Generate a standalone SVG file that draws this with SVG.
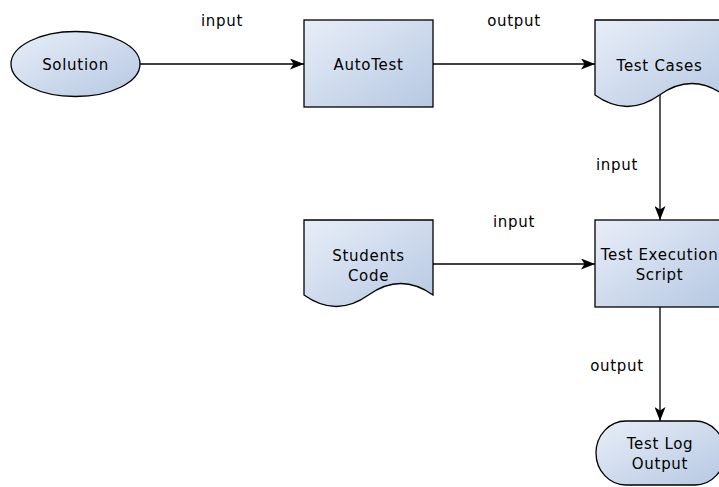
<svg xmlns="http://www.w3.org/2000/svg" width="719" height="487" viewBox="0 0 719 487">
  <defs>
    <linearGradient id="fillGrad" x1="0" y1="0" x2="1" y2="1">
      <stop offset="0" stop-color="#e8eef8"/>
      <stop offset="1" stop-color="#b6c8e2"/>
    </linearGradient>
    <marker id="arrow" viewBox="0 0 14 11" refX="14" refY="5.5" markerWidth="14" markerHeight="11" markerUnits="userSpaceOnUse" orient="auto">
      <path d="M0,0 L14,5.5 L0,11 L3.5,5.5 Z" fill="#000"/>
    </marker>
    <style>
      .shape { fill: url(#fillGrad); stroke: #000; stroke-width: 1.3; }
      .lbl { font-family: "DejaVu Sans", Verdana, sans-serif; font-size: 15px; letter-spacing: 0.7px; fill: #000; text-anchor: middle; }
      .edge { fill: none; stroke: #000; stroke-width: 1.3; marker-end: url(#arrow); }
    </style>
  </defs>

  <rect width="719" height="487" fill="#fff"/>

  <!-- connectors -->
  <g id="connectors">
    <path class="edge" d="M140,64 L304,64"/>
    <path class="edge" d="M433,64 L595,64"/>
    <path class="edge" d="M660,95 L660,220"/>
    <path class="edge" d="M433,264 L595,264"/>
    <path class="edge" d="M660,307 L660,421"/>
    <text class="lbl" x="222" y="26">input</text>
    <text class="lbl" x="514" y="26">output</text>
    <text class="lbl" x="617" y="170">input</text>
    <text class="lbl" x="514" y="227">input</text>
    <text class="lbl" x="617" y="371">output</text>
  </g>

  <!-- nodes -->
  <g id="solution">
    <ellipse class="shape" cx="75.5" cy="64" rx="64.5" ry="32.5"/>
    <text class="lbl" x="75.5" y="69.5">Solution</text>
  </g>

  <g id="autotest">
    <rect class="shape" x="304" y="20" width="129" height="87"/>
    <text class="lbl" x="368.5" y="69.5">AutoTest</text>
  </g>

  <g id="test-cases">
    <path class="shape" d="M595,20 L724,20 L724,95 Q691.75,72 659.5,95 Q627.25,118 595,95 Z"/>
    <text class="lbl" x="659.5" y="70.5">Test Cases</text>
  </g>

  <g id="students-code">
    <path class="shape" d="M304,220 L433,220 L433,295 Q400.75,272 368.5,295 Q336.25,318 304,295 Z"/>
    <text class="lbl" x="368.5" y="261">Students</text>
    <text class="lbl" x="368.5" y="281">Code</text>
  </g>

  <g id="test-execution-script">
    <rect class="shape" x="595" y="220" width="129" height="87"/>
    <text class="lbl" x="659.5" y="260">Test Execution</text>
    <text class="lbl" x="659.5" y="280">Script</text>
  </g>

  <g id="test-log-output">
    <rect class="shape" x="596" y="421" width="129" height="64" rx="30" ry="32"/>
    <text class="lbl" x="660" y="449">Test Log</text>
    <text class="lbl" x="660" y="469">Output</text>
  </g>
</svg>
